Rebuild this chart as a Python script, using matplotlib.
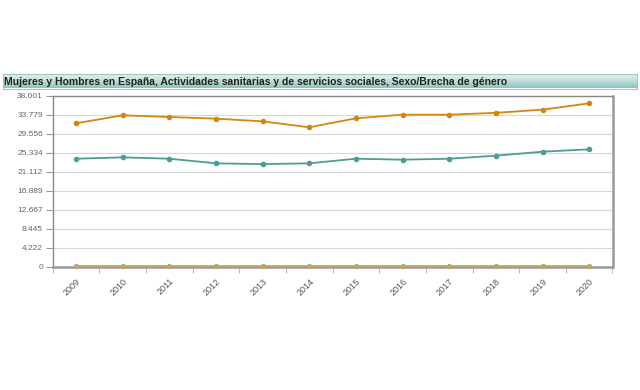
import numpy as np
import matplotlib.pyplot as plt
from matplotlib.colors import LinearSegmentedColormap

years = ['2009', '2010', '2011', '2012', '2013', '2014',
         '2015', '2016', '2017', '2018', '2019', '2020']
mujeres = [24.0, 24.3, 24.0, 22.97, 22.8, 22.97, 24.0, 23.78, 24.0, 24.67, 25.56, 26.08]
hombres = [31.87, 33.64, 33.27, 32.9, 32.3, 30.98, 32.98, 33.78, 33.78, 34.2, 34.9, 36.3]
brecha = [0.05, 0.05, 0.05, 0.05, 0.05, 0.05, 0.05, 0.05, 0.05, 0.05, 0.05, 0.05]
yticks = [0, 4.222, 8.445, 12.667, 16.889, 21.112, 25.334, 29.556, 33.779, 38.001]
ytick_labels = ['0', '4.222', '8.445', '12.667', '16.889', '21.112',
                '25.334', '29.556', '33.779', '38.001']

plt.rcParams['font.family'] = ['Liberation Sans', 'DejaVu Sans']

fig = plt.figure(figsize=(6.4, 3.9), dpi=100)

# title bar, light on top and teal at the bottom
bar = fig.add_axes([0.004, 1 - 88.5 / 390, 0.991, 14.5 / 390])
cmap = LinearSegmentedColormap.from_list('bar', ['#eaf5f2', '#c0e0da', '#8cc4ba'])
bar.imshow(np.linspace(0, 1, 50).reshape(-1, 1), aspect='auto', cmap=cmap,
           extent=[0, 1, 0, 1])
bar.set_xlim(0, 1)
bar.set_ylim(0, 1)
bar.set_xticks([])
bar.set_yticks([])
for s in bar.spines.values():
    s.set_color('#9cc9c2')
    s.set_linewidth(0.8)
bar.text(0.003, 0.47, 'Mujeres y Hombres en España, Actividades sanitarias y de servicios sociales, Sexo/Brecha de género',
         fontsize=7.5, fontweight='bold', color='#222222', va='center', ha='left')

ax = fig.add_axes([52.7 / 640, 1 - 266.7 / 390, (612.5 - 52.7) / 640, (266.7 - 95.7) / 390])
x = np.arange(len(years))

ax.plot(x, hombres, color='#d4860e', lw=1.3, marker='o', ms=3.0, zorder=4)
ax.plot(x, mujeres, color='#4e9d95', lw=1.3, marker='o', ms=3.0, zorder=4)
ax.plot(x, brecha, color='#c0a56a', lw=1.3, marker='o', ms=2.8, zorder=4, clip_on=False)

ax.set_xlim(-0.5, len(years) - 0.5)
ax.set_ylim(0, 38.001)
ax.set_yticks(yticks)
ax.set_yticklabels(ytick_labels)
ax.grid(axis='y', color='#d8d8d8', lw=0.8)
ax.set_axisbelow(True)

# ticks on the category edges, labels on the categories
ax.set_xticks(np.arange(-0.5, len(years) + 0.5, 1))
ax.set_xticklabels([])
ax.set_xticks(x, minor=True)
ax.set_xticklabels(years, minor=True, rotation=45, ha='right', rotation_mode='anchor')
ax.tick_params(axis='x', which='minor', length=0, labelsize=6.5, labelcolor='#555555', pad=7)
ax.tick_params(axis='x', which='major', length=4, color='#bbbbbb')
ax.tick_params(axis='y', length=5, color='#999999', labelsize=6, labelcolor='#666666', pad=2)

for side in ['top', 'left']:
    ax.spines[side].set_color('#888888')
    ax.spines[side].set_linewidth(1.0)
for side in ['right', 'bottom']:
    ax.spines[side].set_color('#999999')
    ax.spines[side].set_linewidth(1.8)

fig.savefig('out.png', dpi=100, facecolor='white')
